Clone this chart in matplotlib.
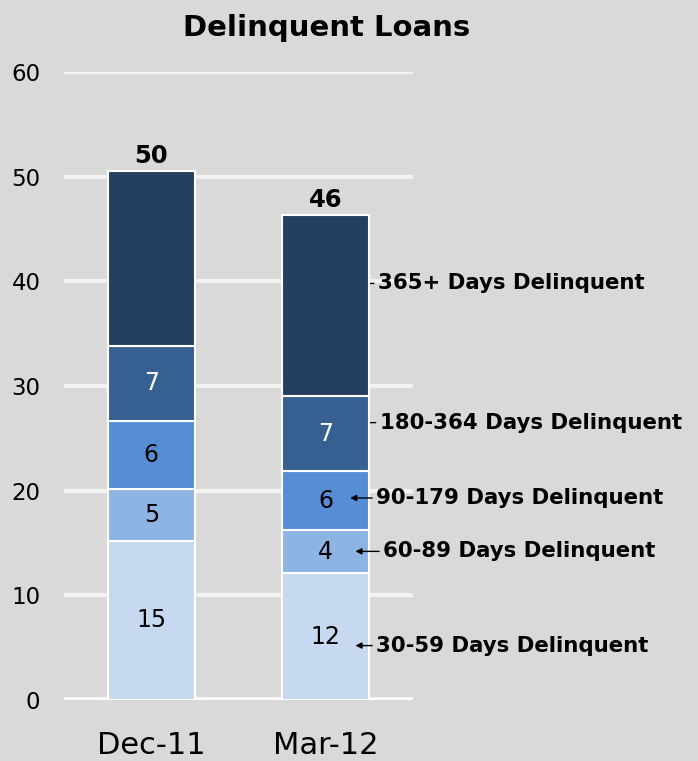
import matplotlib.pyplot as plt
import numpy as np

# Data
periods = ["Dec-11", "Mar-12"]
buckets = ["30-59 Days Delinquent", "60-89 Days Delinquent", "90-179 Days Delinquent",
           "180-364 Days Delinquent", "365+ Days Delinquent"]
values = {
    "30-59 Days Delinquent": [15.2, 12.1],
    "60-89 Days Delinquent": [5.0, 4.1],
    "90-179 Days Delinquent": [6.5, 5.7],
    "180-364 Days Delinquent": [7.1, 7.1],
    "365+ Days Delinquent": [16.7, 17.3],
}
seg_labels = {
    "30-59 Days Delinquent": ["15", "12"],
    "60-89 Days Delinquent": ["5", "4"],
    "90-179 Days Delinquent": ["6", "6"],
    "180-364 Days Delinquent": ["7", "7"],
    "365+ Days Delinquent": ["", ""],
}
totals = ["50", "46"]
colors = ["#c6d9f1", "#8eb4e3", "#558ed5", "#366092", "#243f60"]
text_colors = ["black", "black", "black", "white", "white"]

# callout placement: label y (data), arrow tip x, text start x, drawn over the bar?
callout_y = [5.2, 14.2, 19.3, 26.5, 39.8]
tip_x = [1.17, 1.17, 1.14, 1.2, 1.2]
text_x = [1.29, 1.33, 1.29, 1.31, 1.30]
on_top = [True, True, True, False, False]

plt.rcParams["font.family"] = ["DejaVu Sans"]
bg = "#d9d9d9"

fig = plt.figure(figsize=(6.98, 7.61), dpi=100, facecolor=bg)
ax = fig.add_axes([64 / 698, 1 - 700 / 761, 349 / 698, 628 / 761], facecolor=bg)

x = np.arange(len(periods))
bottom = np.zeros(len(periods))
for b, col, tc in zip(buckets, colors, text_colors):
    v = np.array(values[b])
    ax.bar(x, v, width=0.5, bottom=bottom, color=col, edgecolor="white",
           linewidth=1.5, zorder=3)
    for xi, yi, vi, lab in zip(x, bottom, v, seg_labels[b]):
        if lab:
            ax.text(xi, yi + vi / 2, lab, ha="center", va="center",
                    fontsize=17, color=tc, zorder=4)
    bottom += v

for xi, top, lab in zip(x, bottom, totals):
    ax.text(xi, top + 0.3, lab, ha="center", va="bottom", fontsize=17.5,
            fontweight="bold", zorder=4)

# callouts on the right of the Mar-12 bar
for b, cy, tx, lx, top in zip(buckets, callout_y, tip_x, text_x, on_top):
    ax.annotate(b, xy=(tx, cy), xytext=(lx, cy), ha="left", va="center",
                fontsize=15.3, fontweight="bold", annotation_clip=False,
                arrowprops=dict(arrowstyle="-|>", color="black", lw=1,
                                mutation_scale=9, shrinkA=1, shrinkB=0),
                zorder=5 if top else 2)

ax.set_xlim(-0.5, 1.5)
ax.set_ylim(0, 60)
ax.set_yticks(range(0, 61, 10))
ax.set_xticks(x)
ax.set_xticklabels(periods, fontsize=22)
ax.tick_params(axis="y", labelsize=16.5, length=0, pad=17)
ax.tick_params(axis="x", length=0, pad=22)
ax.grid(axis="y", color="#f2f2f2", linewidth=3, zorder=0)
ax.set_axisbelow(True)
for s in ax.spines.values():
    s.set_visible(False)
ax.axhline(0, color="white", linewidth=4, zorder=2)

fig.text(327 / 698, 1 - 28 / 761, "Delinquent Loans", ha="center", va="center",
         fontsize=21, fontweight="bold")

fig.savefig("out.png", dpi=100, facecolor=bg)
